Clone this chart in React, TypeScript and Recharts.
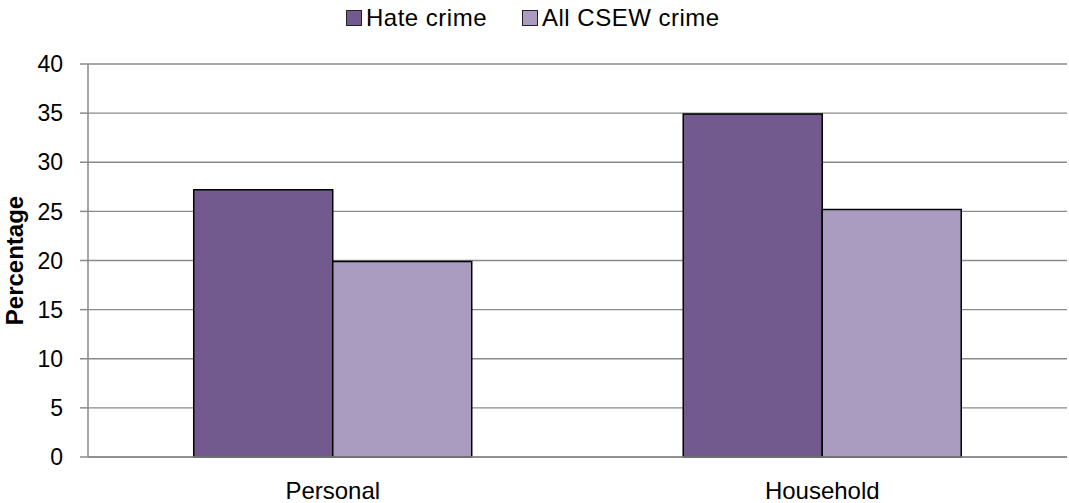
import { BarChart, Bar, XAxis, YAxis, CartesianGrid, Label } from 'recharts';

// ─── Data ───────────────────────────────────────────────
const categories = ['Personal', 'Household'];
const hateCrime = [27.2, 34.9];
const allCsew = [19.9, 25.2];
const yTicks = [0, 5, 10, 15, 20, 25, 30, 35, 40];

const HATE = '#725a8f';
const CSEW = '#a99cc0';
const AXIS = '#8a8a8a';
const FONT = 'Arial, "Liberation Sans", sans-serif';

const data = categories.map((name, i) => ({ name, idx: i + 0.5, hate: hateCrime[i], csew: allCsew[i] }));

function LegendItem({ color, label, gap }: { color: string; label: string; gap: number }) {
  return (
    <span style={{ display: 'inline-flex', alignItems: 'center', marginRight: gap }}>
      <span
        style={{
          width: 14,
          height: 14,
          background: color,
          border: '1px solid #222',
          marginRight: 4,
          display: 'inline-block',
        }}
      />
      <span>{label}</span>
    </span>
  );
}

export default function App() {
  return (
    <div style={{ position: 'absolute', left: 0, top: 0, width: 1069, height: 503, background: '#fff', fontFamily: FONT }}>
      <div
        style={{
          position: 'absolute',
          top: 4,
          left: 346,
          fontSize: 24,
          lineHeight: '28px',
          letterSpacing: 0.5,
          color: '#000',
          whiteSpace: 'nowrap',
        }}
      >
        <LegendItem color={HATE} label="Hate crime" gap={35} />
        <LegendItem color={CSEW} label="All CSEW crime" gap={0} />
      </div>
      <BarChart
        width={1069}
        height={503}
        data={data}
        margin={{ top: 64, right: 2, bottom: 0, left: 0 }}
        barCategoryGap="21.6%"
        barGap={0}
      >
        <CartesianGrid horizontal vertical={false} stroke={AXIS} strokeWidth={1.3} strokeOpacity={1} />
        <XAxis
          xAxisId="edges"
          type="number"
          dataKey="idx"
          domain={[0, 2]}
          ticks={[0, 1, 2]}
          height={0}
          axisLine={false}
          tick={false}
          tickLine={{ stroke: AXIS, strokeWidth: 1.5 }}
          tickSize={7}
        />
        <XAxis
          dataKey="name"
          height={46}
          axisLine={{ stroke: AXIS, strokeWidth: 1.5 }}
          tickLine={false}
          tick={{ fill: '#000', fontSize: 24, fontFamily: FONT }}
          tickMargin={19}
          interval={0}
        />
        <YAxis
          width={88}
          domain={[0, 40]}
          ticks={yTicks}
          interval={0}
          axisLine={{ stroke: AXIS, strokeWidth: 1.5 }}
          tickLine={{ stroke: AXIS, strokeWidth: 1.5 }}
          tickSize={8}
          tickMargin={17}
          tick={{ fill: '#000', fontSize: 23, fontFamily: FONT }}
        >
          <Label
            value="Percentage"
            angle={-90}
            position="insideLeft"
            offset={14}
            style={{ fontWeight: 'bold', fontSize: 24, fill: '#000', fontFamily: FONT, textAnchor: 'middle' }}
          />
        </YAxis>
        <Bar dataKey="hate" fill={HATE} stroke="#000" strokeWidth={1.5} isAnimationActive={false} />
        <Bar dataKey="csew" fill={CSEW} stroke="#000" strokeWidth={1.5} isAnimationActive={false} />
      </BarChart>
    </div>
  );
}
